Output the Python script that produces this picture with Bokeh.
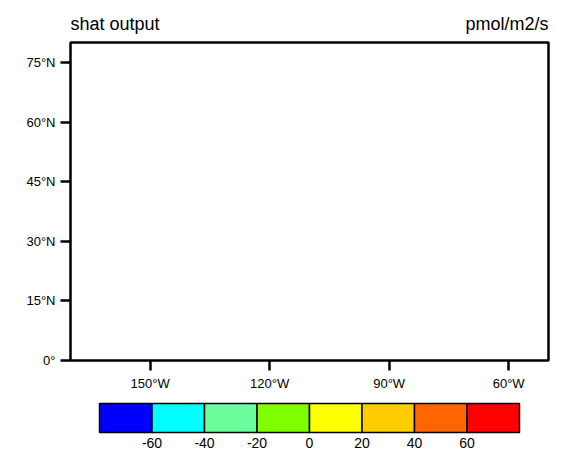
from bokeh.plotting import figure
from bokeh.layouts import column
from bokeh.models import Range1d, FixedTicker, ColumnDataSource
from bokeh.embed import file_html
from bokeh.resources import INLINE

# ---- data ----
lon_range = [-170, -50]
lat_range = [0, 80]
lon_ticks = [-150, -120, -90, -60]
lon_labels = ["150°W", "120°W", "90°W", "60°W"]
lat_ticks = [0, 15, 30, 45, 60, 75]
lat_labels = ["0°", "15°N", "30°N", "45°N", "60°N", "75°N"]
levels = [-80, -60, -40, -20, 0, 20, 40, 60, 80]
level_labels = ["-60", "-40", "-20", "0", "20", "40", "60"]
level_colors = ["#0000FF", "#00FFFF", "#6AFF9C", "#80FF00",
                "#FFFF00", "#FFCC00", "#FF6600", "#FF0000"]
title_left = "shat output"
title_right = "pmol/m2/s"

FONT = "Liberation Sans"
W = 567
BL, BR = 70, 19          # left / right borders of the map frame (px)

# ---- header with the two titles ----
HEAD_H = 39
hd = figure(width=W, height=HEAD_H, title=None,
            x_range=Range1d(lon_range[0], lon_range[1]),
            y_range=Range1d(0, HEAD_H),
            output_backend="svg", toolbar_location=None,
            x_axis_location=None, y_axis_location=None,
            min_border_left=BL, min_border_right=BR,
            min_border_top=0, min_border_bottom=0)
hd.grid.visible = False
hd.outline_line_color = None
hd.border_fill_color = "white"
hd.text(x=[lon_range[0]], y=[HEAD_H - 23], text=[title_left],
        text_font={"value": FONT}, text_font_size="18px",
        text_baseline="alphabetic", text_align="left", text_color="black")
hd.text(x=[lon_range[1]], y=[HEAD_H - 23], text=[title_right],
        text_font={"value": FONT}, text_font_size="18px",
        text_baseline="alphabetic", text_align="right", text_color="black")

# ---- main map frame ----
p = figure(width=W, height=356, title=None,
           x_range=Range1d(lon_range[0], lon_range[1]),
           y_range=Range1d(lat_range[0], lat_range[1]),
           output_backend="svg", toolbar_location=None,
           min_border_left=BL, min_border_right=BR,
           min_border_top=3, min_border_bottom=35)
p.grid.visible = False
p.outline_line_color = "black"
p.outline_line_width = 2.5
p.outline_line_alpha = 1.0
p.background_fill_color = "white"
p.border_fill_color = "white"

p.xaxis.ticker = FixedTicker(ticks=lon_ticks)
p.xaxis.major_label_overrides = {t: l for t, l in zip(lon_ticks, lon_labels)}
p.yaxis.ticker = FixedTicker(ticks=lat_ticks)
p.yaxis.major_label_overrides = {t: l for t, l in zip(lat_ticks, lat_labels)}
for ax in (p.xaxis, p.yaxis):
    ax.axis_line_color = None
    ax.major_tick_out = 10
    ax.major_tick_in = 0
    ax.minor_tick_out = 0
    ax.minor_tick_in = 0
    ax.major_tick_line_width = 2.5
    ax.major_tick_line_color = "black"
    ax.major_label_text_font = FONT
    ax.major_label_text_font_size = "13px"
    ax.major_label_text_color = "black"
    ax.major_label_standoff = 5

# ---- colour bar ----
frame_w = W - BL - BR                 # 478 px
bar_left_px, bar_right_px = 99, 519   # bar extent on the page
span = levels[-1] - levels[0]
upp = span / (bar_right_px - bar_left_px)   # data units per pixel
cb_x0 = levels[0] - (bar_left_px - BL) * upp
cb_x1 = levels[-1] + (W - BR - bar_right_px) * upp
pad = 2 / 29
cb = figure(width=W, height=59, title=None,
            x_range=Range1d(cb_x0, cb_x1), y_range=Range1d(-pad, 1 + pad),
            output_backend="svg", toolbar_location=None,
            y_axis_location=None,
            min_border_left=BL, min_border_right=BR,
            min_border_top=6, min_border_bottom=20)
cb.grid.visible = False
cb.outline_line_color = None
cb.border_fill_color = "white"
src = ColumnDataSource(dict(left=levels[:-1], right=levels[1:],
                            color=level_colors))
cb.quad(left="left", right="right", bottom=0, top=1, fill_color="color",
        line_color="black", line_width=1.5, source=src)
cb.xaxis.ticker = FixedTicker(ticks=levels[1:-1])
cb.xaxis.major_label_overrides = {t: l for t, l in zip(levels[1:-1], level_labels)}
cb.xaxis.axis_line_color = None
cb.xaxis.major_tick_out = 0
cb.xaxis.major_tick_in = 0
cb.xaxis.minor_tick_out = 0
cb.xaxis.minor_tick_in = 0
cb.xaxis.major_label_text_font = FONT
cb.xaxis.major_label_text_font_size = "14px"
cb.xaxis.major_label_text_color = "black"
cb.xaxis.major_label_standoff = 3

layout = column(hd, p, cb, spacing=0)
open("out.html", "w").write(file_html(layout, INLINE))
